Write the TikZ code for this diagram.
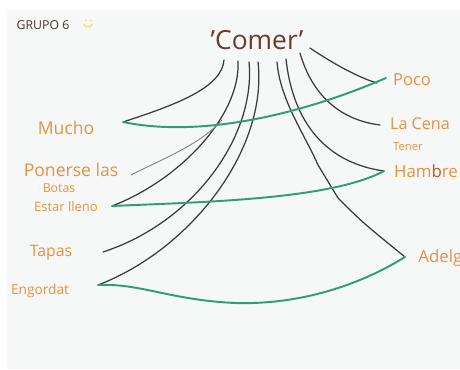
\documentclass[tikz,border=0pt]{standalone}
\usepackage{fontspec}
\setmainfont{Open Sans}
\definecolor{board}{HTML}{F6F7F7}
\definecolor{marker}{HTML}{E8913F}
\definecolor{title}{HTML}{6A3B2E}
\definecolor{group}{HTML}{4A3530}
\definecolor{ink}{HTML}{3A3A3A}
\definecolor{leaf}{HTML}{2E9E73}
\definecolor{smile}{HTML}{EEE27A}
\definecolor{redb}{HTML}{D2501E}
\begin{document}
\begin{tikzpicture}[x=0.02cm,y=-0.02cm]
          \tikzstyle{word}=[text=marker,inner sep=0pt];
          \tikzstyle{stroke}=[ink,line width=0.7pt,line cap=round];
          \tikzstyle{band}=[leaf,line width=1.1pt,line cap=round];
          % board
          \fill[white] (0,0) rectangle (460,369);
          \fill[board] (7,10) rectangle (460,369);
          \useasboundingbox (0,0) rectangle (460,369);
          % labels
          \node (grupo) at (43,25) [inner sep=0pt,text=group] {\fontsize{7}{8}\selectfont GRUPO 6};
          \draw[smile,line width=0.8pt] (83.5,24) arc (160:20:4.8);
          \fill[smile] (86,20.5) circle (0.9) (91,20.5) circle (0.9);
          \node (comer) at (257,40) [inner sep=0pt,text=title] {\fontsize{15}{17}\selectfont 'Comer'};
          \node (mucho) at (66,128) [word] {\fontsize{10}{12}\selectfont Mucho};
          \node (ponerse) at (71,170) [word] {\fontsize{10}{12}\selectfont Ponerse las};
          \node (botas) at (59,188) [word] {\fontsize{7}{8}\selectfont Botas};
          \node (lleno) at (66,207) [word] {\fontsize{7.4}{9}\selectfont Estar lleno};
          \node (tapas) at (51,253) [word] {\fontsize{9}{11}\selectfont Tapas};
          \node (engordat) at (40,291) [word] {\fontsize{7.8}{9}\selectfont Engordat};
          \node (poco) at (412,80) [word] {\fontsize{9.4}{11}\selectfont Poco};
          \node (cena) at (420,124) [word] {\fontsize{9.2}{11}\selectfont La Cena};
          \node (tener) at (408,147) [word] {\fontsize{6.4}{8}\selectfont Tener};
          \node (hambre) at (426,171) [word] {\fontsize{9.6}{11}\selectfont Ham{\color{redb}b}re};
          \node (adelg) at (418,258) [word,anchor=west] {\fontsize{9.6}{11}\selectfont Adelg};
          % ends of the strokes
          \coordinate (s1) at (224,60);
          \coordinate (s2) at (238,61);
          \coordinate (s3) at (249,62);
          \coordinate (s4) at (258,62);
          \coordinate (s5) at (277,62);
          \coordinate (s6) at (286,59);
          \coordinate (s7) at (300,53);
          \coordinate (s8) at (310,48);
          \coordinate (m1) at (123,122);
          \coordinate (p1) at (131,175);
          \coordinate (j1) at (222,120);
          \coordinate (e1) at (112,206);
          \coordinate (t1) at (103,252);
          \coordinate (g1) at (98,285);
          \coordinate (k1) at (338,198);
          \coordinate (a1) at (405,257);
          \coordinate (h1) at (384,171);
          \coordinate (c1) at (380,125);
          \coordinate (q1) at (377,83);
          \coordinate (q2) at (386,78);
          \coordinate (b1) at (235,303);
          % black strokes
          \draw[stroke] (s1) .. controls (222,88) and (175,105) .. (m1);
          \draw[stroke] (s2) .. controls (241,115) and (180,180) .. (e1);
          \draw[stroke,gray,line width=0.5pt] (j1) .. controls (200,145) and (160,160) .. (p1);
          \draw[stroke] (s3) .. controls (256,135) and (195,222) .. (t1);
          \draw[stroke] (s4) .. controls (268,150) and (190,250) .. (g1);
          \draw[stroke] (s5) .. controls (280,100) and (305,135) .. (318,165) -- (k1) .. controls (362,222) .. (a1);
          \draw[stroke] (s6) .. controls (292,115) and (320,162) .. (h1);
          \draw[stroke] (s7) .. controls (312,95) and (340,120) .. (c1);
          \draw[stroke] (s8) .. controls (335,65) and (360,78) .. (q1);
          % green bands
          \draw[band] (m1) .. controls (200,138) and (300,115) .. (q2);
          \draw[band] (e1) .. controls (200,202) and (330,200) .. (h1);
          \draw[band] (g1) .. controls (140,283) and (170,300) .. (b1) .. controls (300,305) and (360,285) .. (a1);
      \end{tikzpicture}
\end{document}
